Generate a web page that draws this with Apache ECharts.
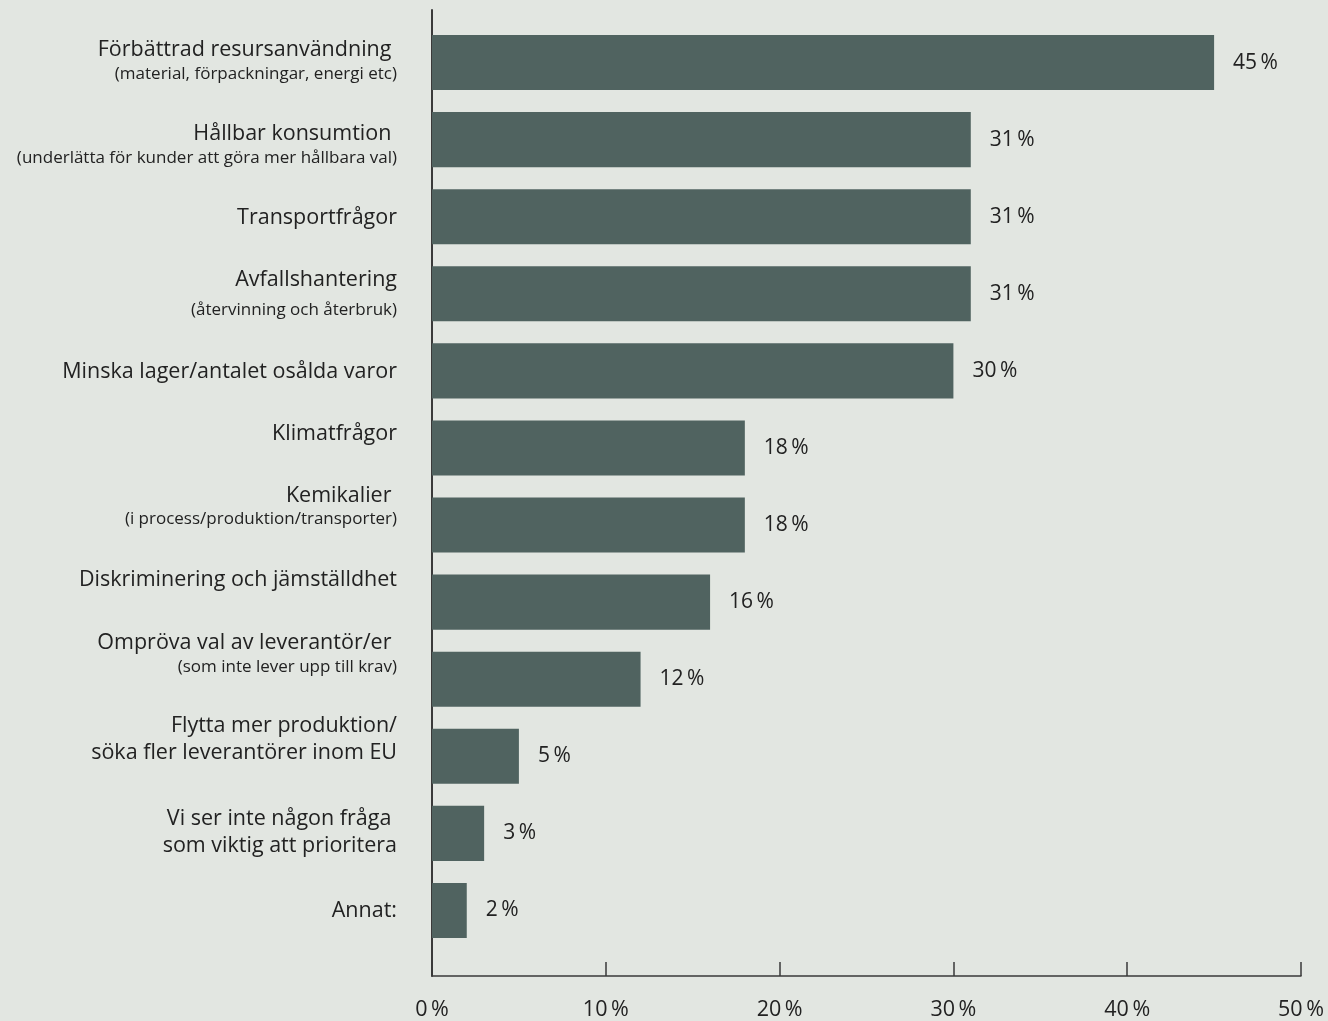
<!DOCTYPE html>
<html><head><meta charset="utf-8">
<script src="https://cdn.jsdelivr.net/npm/echarts@6/dist/echarts.min.js"></script>
<style>html,body{margin:0;padding:0;background:#e2e6e1;}#c{width:1328px;height:1021px;}</style>
</head><body><div id="c"></div>
<script>
const mainLabels = [
  'Förbättrad resursanvändning ',
  'Hållbar konsumtion ',
  'Transportfrågor',
  'Avfallshantering',
  'Minska lager/antalet osålda varor',
  'Klimatfrågor',
  'Kemikalier ',
  'Diskriminering och jämställdhet',
  'Ompröva val av leverantör/er ',
  'Flytta mer produktion/\nsöka fler leverantörer inom EU',
  'Vi ser inte någon fråga \nsom viktig att prioritera',
  'Annat:'
];
const subLabels = [
  '(material, förpackningar, energi etc)',
  '(underlätta för kunder att göra mer hållbara val)',
  '',
  '(återvinning och återbruk)',
  '',
  '',
  '(i process/produktion/transporter)',
  '',
  '(som inte lever upp till krav)',
  '',
  '',
  ''
];
const values = [45, 31, 31, 31, 30, 18, 18, 16, 12, 5, 3, 2];
const xTicks = [0, 10, 20, 30, 40, 50];

// label vertical nudges in px (style only; positive = up)
const labelLift = [2, -5, -1, -3, -1, 14, 19, 22, 26, 17, 1, 0];

const FONT = '"Open Sans", sans-serif';
const catData = mainLabels.map((m, i) => {
  const lines = m.split('\n').map(l => '{m|' + l + '}');
  let txt = lines.join('\n');
  if (subLabels[i]) txt += '\n{' + (i === 3 ? 'g' : 's') + '|' + subLabels[i] + '}';
  const s = labelLift[i];
  const pad = s >= 0 ? [0, 0, 2 * s, 0] : [-2 * s, 0, 0, 0];
  return { value: 'c' + i, textStyle: { padding: pad }, _txt: txt };
});

const chart = echarts.init(document.getElementById('c'), null, { renderer: 'canvas' });
chart.setOption({
  backgroundColor: '#e2e6e1',
  animation: false,
  grid: [
    { left: 432, width: 869, top: 24, height: 925 },
    { left: 432, width: 869, top: 10, height: 970 }
  ],
  xAxis: [
    { gridIndex: 0, type: 'value', min: 0, max: 50, interval: 10, show: false },
    { gridIndex: 1, type: 'value', min: xTicks[0], max: xTicks[xTicks.length - 1], interval: 10,
      axisLine: { show: true, lineStyle: { color: '#3a3a3a', width: 1.5 } },
      axisTick: { show: true, inside: true, length: 14, lineStyle: { color: '#3a3a3a', width: 1.5 } },
      splitLine: { show: false },
      axisLabel: { margin: 23, fontFamily: FONT, fontSize: 21.5, color: '#222',
        formatter: v => v + '\u2009%' } }
  ],
  yAxis: [
    { gridIndex: 0, type: 'category', inverse: true,
      data: catData.map(d => ({ value: d.value, textStyle: d.textStyle })),
      axisLine: { show: false }, axisTick: { show: false },
      axisLabel: { margin: 35, align: 'right',
        formatter: (v, idx) => catData[idx]._txt,
        rich: {
          m: { fontFamily: FONT, fontSize: 21.5, color: '#222', lineHeight: 27, align: 'right' },
          s: { fontFamily: FONT, fontSize: 17, color: '#222', lineHeight: 21, align: 'right' },
          g: { fontFamily: FONT, fontSize: 17, color: '#222', lineHeight: 33, align: 'right' }
        } } },
    { gridIndex: 1, type: 'value', min: 0, max: 1,
      axisLine: { show: true, lineStyle: { color: '#3a3a3a', width: 2 } },
      axisTick: { show: false }, axisLabel: { show: false }, splitLine: { show: false } }
  ],
  series: [{
    type: 'bar', xAxisIndex: 0, yAxisIndex: 0,
    data: values,
    barCategoryGap: '28.6%',
    itemStyle: { color: '#506360' },
    label: { show: true, position: 'right', distance: 19, fontFamily: FONT, fontSize: 21, color: '#222',
      formatter: p => p.value + '\u2009%' }
  }]
});
</script></body></html>
